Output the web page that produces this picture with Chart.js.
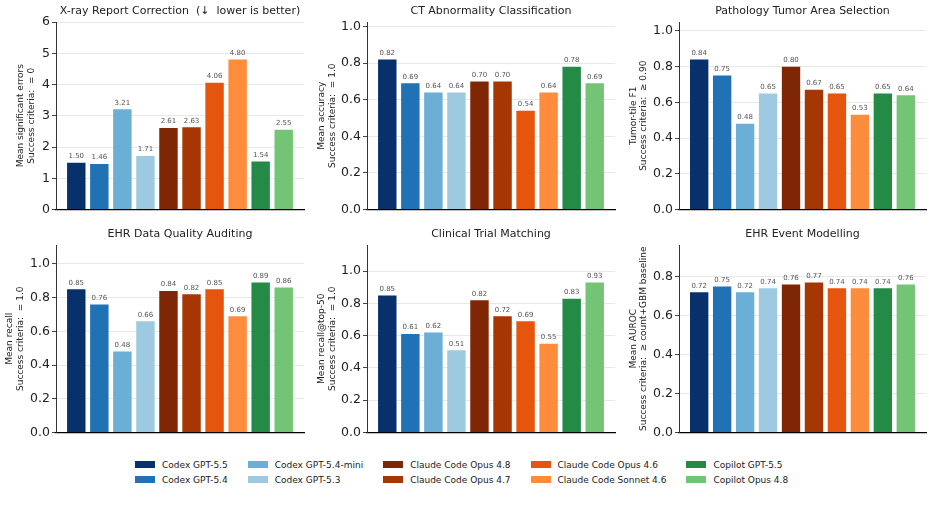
<!DOCTYPE html>
<html>
<head>
<meta charset="utf-8">
<script src="https://cdn.jsdelivr.net/npm/chart.js@4.4.1/dist/chart.umd.min.js"></script>
<style>
    body { margin: 0; background: #fff; font-family: "DejaVu Sans", sans-serif; }
    #wrap { position: relative; width: 933px; height: 527px; overflow: hidden; background: #fff; }
    #wrap canvas { position: absolute; }
    #legend {
        position: absolute; left: 135px; top: 457px;
        display: grid; grid-template-rows: 15px 15px; grid-auto-flow: column;
        column-gap: 20px; font-size: 9px; color: #222;
    }
    .item { display: flex; align-items: center; white-space: nowrap; }
    .sw { width: 20px; height: 7px; margin-right: 7px; }
</style>
</head>
<body>
<div id="wrap">
    <div id="legend"></div>
</div>
<script>
// Models, in bar order
const models = [
    'Codex GPT-5.5', 'Codex GPT-5.4', 'Codex GPT-5.4-mini', 'Codex GPT-5.3',
    'Claude Code Opus 4.8', 'Claude Code Opus 4.7', 'Claude Code Opus 4.6', 'Claude Code Sonnet 4.6',
    'Copilot GPT-5.5', 'Copilot Opus 4.8'
];
const modelColors = [
    '#08306b', '#2171b5', '#6baed6', '#9ecae1',
    '#7f2704', '#a63603', '#e6550d', '#fd8d3c',
    '#238b45', '#74c476'
];

// One series per task
const xrayErrors   = [1.50, 1.46, 3.21, 1.71, 2.61, 2.63, 4.06, 4.80, 1.54, 2.55];
const ctAccuracy   = [0.82, 0.69, 0.64, 0.64, 0.70, 0.70, 0.54, 0.64, 0.78, 0.69];
const pathologyF1  = [0.84, 0.75, 0.48, 0.65, 0.80, 0.67, 0.65, 0.53, 0.65, 0.64];
const ehrRecall    = [0.85, 0.76, 0.48, 0.66, 0.84, 0.82, 0.85, 0.69, 0.89, 0.86];
const trialRecall  = [0.85, 0.61, 0.62, 0.51, 0.82, 0.72, 0.69, 0.55, 0.83, 0.93];
const ehrAuroc     = [0.72, 0.75, 0.72, 0.74, 0.76, 0.77, 0.74, 0.74, 0.74, 0.76];

const panelTitles = [
    'X-ray Report Correction  (\u2193  lower is better)',
    'CT Abnormality Classification',
    'Pathology Tumor Area Selection',
    'EHR Data Quality Auditing',
    'Clinical Trial Matching',
    'EHR Event Modelling'
];
const yTitles = [
    ['Mean significant errors', 'Success criteria:  = 0'],
    ['Mean accuracy', 'Success criteria:  = 1.0'],
    ['Tumor-tile F1', 'Success criteria:  \u2265 0.90'],
    ['Mean recall', 'Success criteria:  = 1.0'],
    ['Mean recall@top-50', 'Success criteria:  = 1.0'],
    ['Mean AUROC', 'Success criteria:  \u2265 count+GBM baseline']
];
const series = [xrayErrors, ctAccuracy, pathologyF1, ehrRecall, trialRecall, ehrAuroc];

// axis limits (max value * 1.25) and tick steps
const yMax  = [6.0, 1.025, 1.05, 1.1125, 1.1625, 0.9625];
const yStep = [1, 0.2, 0.2, 0.2, 0.2, 0.2];

// canvas placement: left, top, y-axis width, y-title padding
const layout = [
    { left: 0,   top: 0,   yw: 56, tp: 15.3 },
    { left: 311, top: 0,   yw: 56, tp: 5.3 },
    { left: 622, top: 0,   yw: 57, tp: 5.9 },
    { left: 0,   top: 223, yw: 56, tp: 4.6 },
    { left: 311, top: 223, yw: 56, tp: 5.3 },
    { left: 622, top: 223, yw: 57, tp: 5.9 }
];
const FONT = '"DejaVu Sans", sans-serif';

// Draw value labels on top of bars
const valueLabels = {
    id: 'valueLabels',
    afterDatasetsDraw(chart) {
        const ctx = chart.ctx;
        const ds = chart.data.datasets[0];
        ctx.save();
        ctx.font = '7px ' + FONT;
        ctx.fillStyle = '#555';
        ctx.textAlign = 'center';
        ctx.textBaseline = 'bottom';
        chart.getDatasetMeta(0).data.forEach((bar, i) => {
            ctx.fillText(ds.data[i].y.toFixed(2), bar.x, bar.y - 3);
        });
        ctx.restore();
    }
};

const wrap = document.getElementById('wrap');

series.forEach((values, p) => {
    const L = layout[p];
    const canvas = document.createElement('canvas');
    canvas.width = 310;
    canvas.height = 219;
    canvas.style.left = L.left + 'px';
    canvas.style.top = L.top + 'px';
    wrap.appendChild(canvas);

    const step = yStep[p];

    new Chart(canvas, {
        type: 'bar',
        data: {
            datasets: [{
                data: values.map((v, i) => ({ x: i, y: v })),
                backgroundColor: modelColors,
                borderWidth: 0,
                barPercentage: 0.8,
                categoryPercentage: 1
            }]
        },
        options: {
            responsive: false,
            animation: false,
            devicePixelRatio: 1,
            layout: { padding: { left: 0, right: 6, top: 0, bottom: 0 } },
            plugins: {
                legend: { display: false },
                tooltip: { enabled: false },
                title: {
                    display: true,
                    text: panelTitles[p],
                    fullSize: false,
                    color: '#222',
                    font: { family: FONT, size: 11, weight: 'normal' },
                    padding: { top: 5, bottom: 3.8 }
                }
            },
            scales: {
                x: {
                    type: 'linear',
                    min: -0.88,
                    max: 9.88,
                    offset: false,
                    ticks: { display: false },
                    grid: { display: false, offset: false },
                    border: { color: '#000', width: 1.2 },
                    afterFit: s => { s.height = 8; }
                },
                y: {
                    min: 0,
                    max: yMax[p],
                    ticks: {
                        stepSize: step,
                        padding: 2,
                        color: '#222',
                        font: { family: FONT, size: 12.5 },
                        callback: v => step >= 1 ? String(Math.round(v)) : v.toFixed(1)
                    },
                    // ticks at whole steps only, like matplotlib
                    afterBuildTicks: s => {
                        const n = Math.floor(yMax[p] / step + 1e-6);
                        const ticks = [];
                        for (let k = 0; k <= n; k++) ticks.push({ value: +(k * step).toFixed(6) });
                        s.ticks = ticks;
                    },
                    grid: { color: '#e8e8e8', tickLength: 4, tickColor: '#444' },
                    border: { color: '#333', width: 1 },
                    title: {
                        display: true,
                        text: yTitles[p],
                        color: '#222',
                        font: { family: FONT, size: 9 },
                        padding: { top: L.tp, bottom: 0 }
                    },
                    afterFit: s => { s.width = L.yw; }
                }
            }
        },
        plugins: [valueLabels]
    });
});

// Legend, 2 rows, filled column by column
const legend = document.getElementById('legend');
models.forEach((m, i) => {
    const item = document.createElement('div');
    item.className = 'item';
    item.innerHTML = '<span class="sw" style="background:' + modelColors[i] + '"></span><span>' + m + '</span>';
    legend.appendChild(item);
});
</script>
</body>
</html>
